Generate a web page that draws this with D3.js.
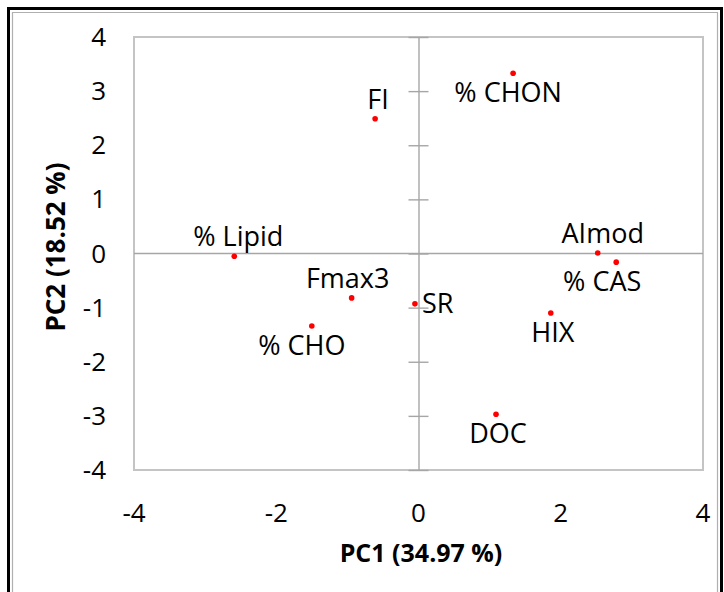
<!DOCTYPE html>
<html>
<head>
<meta charset="utf-8">
<script src="https://cdn.jsdelivr.net/npm/d3@7"></script>
<style>
	body { margin:0; background:#fff; }
	text { font-family:"Open Sans", sans-serif; fill:#000; }
</style>
</head>
<body>
<div id="pca-container"></div>
<script>
// loadings
var names = ["FI","% CHON","% Lipid","Fmax3","% CHO","SR","AImod","% CAS","HIX","DOC"]
var pc1 = [-0.61, 1.33, -2.59, -0.94, -1.50, -0.05, 2.52, 2.78, 1.86, 1.09]
var pc2 = [2.49, 3.33, -0.05, -0.82, -1.34, -0.93, 0.01, -0.16, -1.10, -2.97]
var labelSide = ["above","below","above","above","below","right","above","below","below","below"]
var xTicks = [-4,-2,0,2,4]
var yTicks = [-4,-3,-2,-1,0,1,2,3,4]
var xTitle = "PC1 (34.97 %)"
var yTitle = "PC2 (18.52 %)"

// hand nudges of the data labels, in px
var labelNudge = [3,-5,4,-4,-10,0,5,-14,2,2]

var pca = {}
pca.dimensions = {width:724, height:592, left:134, right:703, top:37, bottom:470}

pca.svg = d3.select("#pca-container")
	.append("svg")
	.attr("width", pca.dimensions.width)
	.attr("height", pca.dimensions.height)

// outer frame
pca.svg.append("path")
	.attr("d","M8.5,600V8.5H721.5V600")
	.attr("fill","none").attr("stroke","#000").attr("stroke-width",3)
pca.svg.append("path")
	.attr("d","M12.5,600V12.5H717.5V600")
	.attr("fill","none").attr("stroke","#b0b0b0").attr("stroke-width",1.2)

pca.x = d3.scaleLinear().domain([-4,4]).range([pca.dimensions.left, pca.dimensions.right])
pca.y = d3.scaleLinear().domain([-4,4]).range([pca.dimensions.bottom, pca.dimensions.top])

// plot area border
pca.svg.append("rect")
	.attr("x", pca.x(-4)).attr("y", pca.y(4))
	.attr("width", pca.x(4)-pca.x(-4)).attr("height", pca.y(-4)-pca.y(4))
	.attr("fill","none").attr("stroke","#c4c4c4").attr("stroke-width",2)

// axes through the origin
pca.svg.append("line")
	.attr("x1", pca.x(-4)).attr("x2", pca.x(4))
	.attr("y1", pca.y(0)).attr("y2", pca.y(0))
	.attr("stroke","#a6a6a6").attr("stroke-width",1.4)

var yAxis = d3.axisLeft(pca.y).tickValues(yTicks).tickSize(0).tickFormat("")
pca.svg.append("g")
	.attr("transform","translate("+pca.x(0)+",0)")
	.call(yAxis)
	.call(function(g){ g.select(".domain").attr("stroke","#a6a6a6").attr("stroke-width",1.4) })
	.selectAll(".tick line")
	.attr("x1",-10).attr("x2",10)
	.attr("stroke","#a6a6a6").attr("stroke-width",1.4)

// tick labels
pca.svg.append("g")
	.selectAll("text")
	.data(yTicks)
	.enter()
	.append("text")
	.attr("x",106)
	.attr("y",function(d){ return pca.y(d)+9 })
	.attr("text-anchor","end")
	.attr("font-size",26)
	.text(function(d){ return d })

pca.svg.append("g")
	.selectAll("text")
	.data(xTicks)
	.enter()
	.append("text")
	.attr("x",function(d){ return pca.x(d) })
	.attr("y",522)
	.attr("text-anchor","middle")
	.attr("font-size",26)
	.text(function(d){ return d })

// titles
pca.svg.append("text")
	.attr("x",421).attr("y",562)
	.attr("text-anchor","middle")
	.attr("font-size",25).attr("font-weight","bold")
	.text(xTitle)

pca.svg.append("text")
	.attr("transform","translate(65,247) rotate(-90)")
	.attr("text-anchor","middle")
	.attr("font-size",26).attr("font-weight","bold")
	.text(yTitle)

// points + labels
var points = names.map(function(n,i){
	return {name:n, x:pc1[i], y:pc2[i], side:labelSide[i], dx:labelNudge[i]}
})

pca.svg.append("g")
	.selectAll("circle")
	.data(points)
	.enter()
	.append("circle")
	.attr("cx",function(d){ return pca.x(d.x) })
	.attr("cy",function(d){ return pca.y(d.y) })
	.attr("r",2.8)
	.attr("fill","#ff0000")

pca.svg.append("g")
	.selectAll("text")
	.data(points)
	.enter()
	.append("text")
	.attr("font-size",27)
	.attr("text-anchor",function(d){ return d.side=="right" ? "start" : "middle" })
	.attr("x",function(d){
		return d.side=="right" ? pca.x(d.x)+7 : pca.x(d.x)+d.dx
	})
	.attr("y",function(d){
		if (d.side=="above") return pca.y(d.y)-10
		if (d.side=="below") return pca.y(d.y)+29
		return pca.y(d.y)+9
	})
	.text(function(d){ return d.name })
</script>
</body>
</html>
